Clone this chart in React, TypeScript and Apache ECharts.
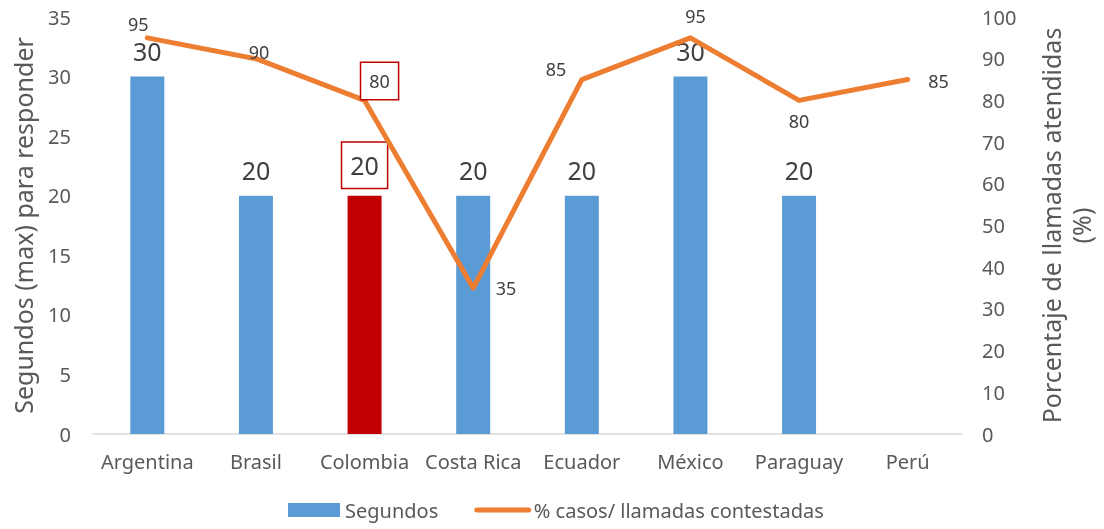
import React, { useEffect, useRef } from "react";
import * as echarts from "echarts";

const categories = ["Argentina", "Brasil", "Colombia", "Costa Rica", "Ecuador", "México", "Paraguay", "Perú"];
const segundos: (number | null)[] = [30, 20, 20, 20, 20, 30, 20, null];
const porcentaje = [95, 90, 80, 35, 85, 95, 80, 85];
const highlightIndex = 2;
const leftTicks = { min: 0, max: 35, interval: 5 };
const rightTicks = { min: 0, max: 100, interval: 10 };

const FONT = "Noto Sans";
const GRAY = "#595959";
const LABEL = "#404040";
const BLUE = "#5B9BD5";
const RED = "#C00000";
const ORANGE = "#ED7D31";

// per-point label placement for the line series
const lineLabelPlacement: { position: string; offset: [number, number]; boxed?: boolean }[] = [
  { position: "top", offset: [-9, 1] },
  { position: "top", offset: [3, 8] },
  { position: "top", offset: [15, 4], boxed: true },
  { position: "right", offset: [17, 0] },
  { position: "left", offset: [-10, -11] },
  { position: "top", offset: [5, -7] },
  { position: "bottom", offset: [0, 6] },
  { position: "right", offset: [15, 1] },
];

export default function App() {
  const ref = useRef<HTMLDivElement>(null);
  useEffect(() => {
    if (!ref.current) return;
    const chart = echarts.init(ref.current, null, { renderer: "svg" });

    const barData = segundos.map((v, i) => {
      if (v === null) return null;
      if (i === highlightIndex) {
        return {
          value: v,
          itemStyle: { color: RED },
          label: {
            show: true,
            position: "top",
            distance: 8,
            borderColor: RED,
            borderWidth: 1.5,
            padding: [10, 8, 10, 8],
            backgroundColor: "#fff",
          },
        };
      }
      return { value: v };
    });

    const lineData = porcentaje.map((v, i) => {
      const p = lineLabelPlacement[i];
      const label: any = { show: true, position: p.position, offset: p.offset };
      if (p.boxed) {
        label.borderColor = RED;
        label.borderWidth = 1.5;
        label.padding = [9, 8, 9, 8];
        label.backgroundColor = "#fff";
      }
      return { value: v, label };
    });

    chart.setOption({
      animation: false,
      textStyle: { fontFamily: FONT },
      grid: { left: 93, right: 136, top: 17, bottom: 95, containLabel: false },
      legend: {
        bottom: 4,
        left: 283,
        itemWidth: 52,
        itemHeight: 14,
        itemGap: 36,
        textStyle: { fontFamily: FONT, fontSize: 20, color: GRAY },
        data: [
          { name: "Segundos", icon: "rect" },
          {
            name: "% casos/ llamadas contestadas",
            itemStyle: { opacity: 0 },
            lineStyle: { width: 5, color: ORANGE, cap: "round" },
          },
        ],
      },
      xAxis: {
        type: "category",
        data: categories,
        axisLine: { show: true, lineStyle: { color: "#D9D9D9", width: 1.5 } },
        axisTick: { show: false },
        axisLabel: { fontFamily: FONT, fontSize: 20, color: GRAY, margin: 17, interval: 0 },
      },
      yAxis: [
        {
          type: "value",
          min: leftTicks.min,
          max: leftTicks.max,
          interval: leftTicks.interval,
          splitLine: { show: false },
          axisLine: { show: false },
          axisTick: { show: false },
          axisLabel: { fontFamily: FONT, fontSize: 20, color: GRAY, margin: 22 },
          name: "Segundos (max) para responder",
          nameLocation: "middle",
          nameGap: 58,
          nameTextStyle: { fontFamily: FONT, fontSize: 25, color: GRAY },
        },
        {
          type: "value",
          min: rightTicks.min,
          max: rightTicks.max,
          interval: rightTicks.interval,
          position: "right",
          splitLine: { show: false },
          axisLine: { show: false },
          axisTick: { show: false },
          axisLabel: { fontFamily: FONT, fontSize: 20, color: GRAY, margin: 20 },
          name: "Porcentaje de llamadas atendidas\n(%)",
          nameLocation: "middle",
          nameGap: 74,
          nameTextStyle: { fontFamily: FONT, fontSize: 25, color: GRAY, lineHeight: 30 },
        },
      ],
      series: [
        {
          name: "Segundos",
          type: "bar",
          yAxisIndex: 0,
          data: barData,
          barWidth: 34,
          itemStyle: { color: BLUE },
          label: {
            show: true,
            position: "top",
            distance: 13,
            fontFamily: FONT,
            fontSize: 25,
            color: LABEL,
          },
        },
        {
          name: "% casos/ llamadas contestadas",
          type: "line",
          yAxisIndex: 1,
          data: lineData,
          symbol: "circle",
          symbolSize: 1,
          itemStyle: { color: ORANGE },
          lineStyle: { color: ORANGE, width: 5, cap: "round", join: "round" },
          label: { show: true, fontFamily: FONT, fontSize: 18, color: LABEL },
          z: 3,
        },
      ],
    });
    return () => chart.dispose();
  }, []);
  return <div ref={ref} style={{ position: "fixed", left: 0, top: 0, width: 1104, height: 529 }} />;
}
